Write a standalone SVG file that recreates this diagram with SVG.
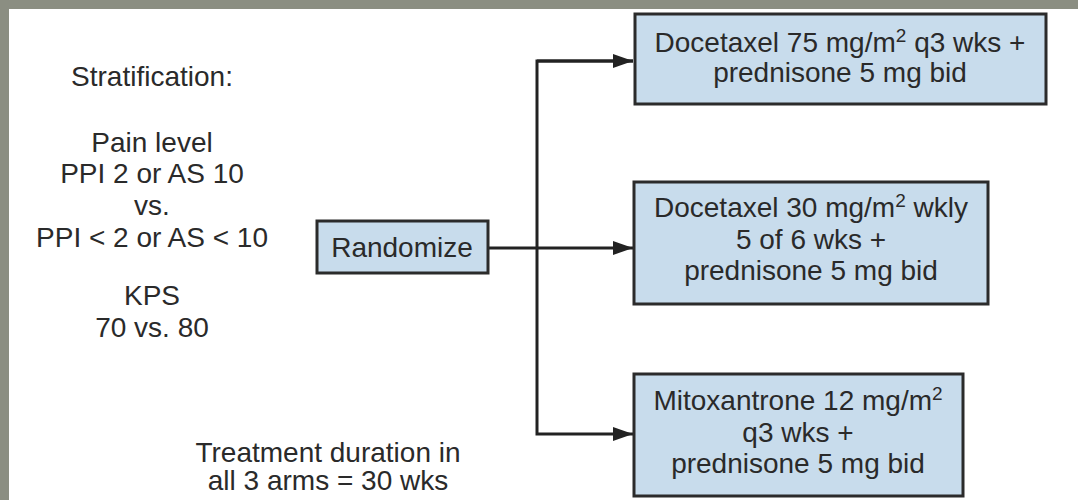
<svg xmlns="http://www.w3.org/2000/svg" width="1078" height="500" viewBox="0 0 1078 500">
<defs>
<marker id="ah" viewBox="0 0 20 14" refX="20" refY="7" markerWidth="20" markerHeight="14" markerUnits="userSpaceOnUse" orient="auto">
<path d="M0,0 L20,7 L0,14 Z" fill="#222"/>
</marker>
</defs>
<style>
text{font-family:"Liberation Sans",Arial,sans-serif;font-size:28px;fill:#2a2a2a;text-anchor:middle}
.box{fill:#c8dcec;stroke:#2b2b2b;stroke-width:3}
.ln{fill:none;stroke:#222;stroke-width:3}
.sup{font-size:19px}
</style>
<rect x="0" y="0" width="1078" height="500" fill="#8b8e82"/>
<rect x="9" y="9" width="1069" height="491" fill="#ffffff"/>
<g id="stratification">
<text x="152" y="86">Stratification:</text>
<text x="152" y="152">Pain level</text>
<text x="152" y="183">PPI 2 or AS 10</text>
<text x="152" y="215">vs.</text>
<text x="152" y="247">PPI &lt; 2 or AS &lt; 10</text>
<text x="152" y="305">KPS</text>
<text x="152" y="337">70 vs. 80</text>
</g>
<g id="duration">
<text x="328" y="462">Treatment duration in</text>
<text x="328" y="490">all 3 arms = 30 wks</text>
</g>
<g id="connectors">
<line class="ln" x1="488" y1="248" x2="633" y2="248" marker-end="url(#ah)"/>
<polyline class="ln" points="633,61 537,61 537,434 633,434" marker-end="url(#ah)"/>
<line class="ln" x1="537" y1="61" x2="633" y2="61" marker-end="url(#ah)"/>
</g>
<g id="randomize">
<rect class="box" x="317" y="221" width="171" height="52"/>
<text x="402" y="257">Randomize</text>
</g>
<g id="arm1">
<rect class="box" x="635" y="14" width="411" height="90"/>
<text x="840" y="52">Docetaxel 75 mg/m<tspan class="sup" dy="-10">2</tspan><tspan dy="10"> q3 wks +</tspan></text>
<text x="840" y="82">prednisone 5 mg bid</text>
</g>
<g id="arm2">
<rect class="box" x="634" y="182" width="354" height="122"/>
<text x="811" y="217">Docetaxel 30 mg/m<tspan class="sup" dy="-10">2</tspan><tspan dy="10"> wkly</tspan></text>
<text x="811" y="249">5 of 6 wks +</text>
<text x="811" y="280">prednisone 5 mg bid</text>
</g>
<g id="arm3">
<rect class="box" x="634" y="374" width="329" height="122"/>
<text x="798" y="410">Mitoxantrone 12 mg/m<tspan class="sup" dy="-10">2</tspan></text>
<text x="798" y="442">q3 wks +</text>
<text x="798" y="473">prednisone 5 mg bid</text>
</g>
</svg>
